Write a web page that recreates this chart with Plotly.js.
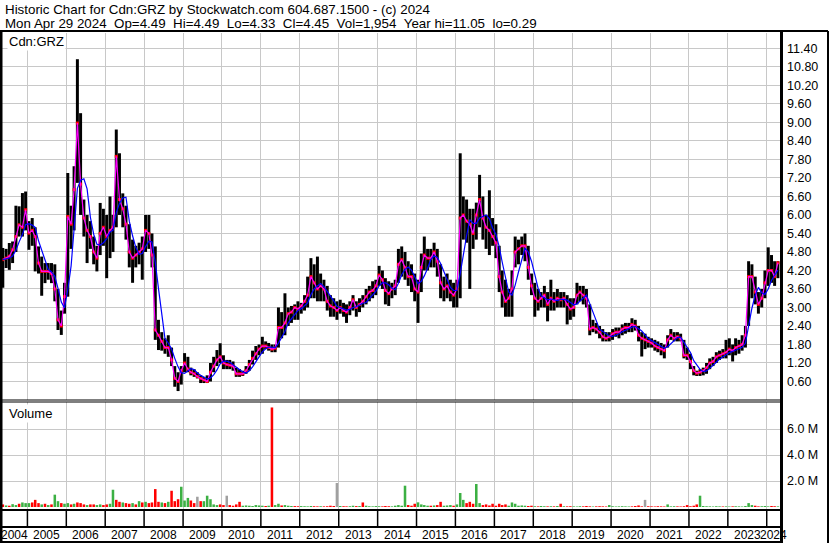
<!DOCTYPE html>
<html><head><meta charset="utf-8">
<script src="https://cdn.plot.ly/plotly-3.0.1.min.js"></script>
<style>html,body{margin:0;padding:0;background:#fff;overflow:hidden}#chart{width:830px;height:543px}</style>
</head><body><div id="chart"></div>
<script>
// ---- data (monthly, May 2004 .. Apr 2024) ----
const firstYear = 2004, firstMonth = 5;
const yearLabels = ['2004','2005','2006','2007','2008','2009','2010','2011','2012','2013','2014','2015','2016','2017','2018','2019','2020','2021','2022','2023','2024'];
const priceTicks = [0.6,1.2,1.8,2.4,3.0,3.6,4.2,4.8,5.4,6.0,6.6,7.2,7.8,8.4,9.0,9.6,10.2,10.8,11.4];
const volTicks = [2,4,6];
const volTickText = ['2.0 M','4.0 M','6.0 M'];
const closePx = [
 4.55,4.60,4.66,4.87,5.3,5.68,5.6,6.17,
 5.41,5.5,5.3,4.44,4.17,4.17,4.17,4.1,3.6,2.6,2.4,3.35,
 5.95,5.7,6.82,8.98,7.0,5.9,5.5,5.3,4.8,4.6,5.4,5.6,
 5.3,5.5,5.6,7.9,6.5,6.2,5.7,4.8,4.6,4.7,4.8,4.9,
 5.5,5.4,4.7,2.27,2.1,1.9,1.7,1.7,1.3,0.7,0.6,0.95,
 1.2,1.0,0.9,0.85,0.76,0.7,0.65,0.6,0.9,1.1,1.3,1.4,
 1.2,1.15,1.13,1.1,0.85,0.85,0.85,0.95,1.15,1.35,1.5,1.65,
 1.75,1.75,1.7,1.65,1.68,2.35,2.35,2.5,2.8,2.85,3.0,2.95,
 3.05,3.2,3.4,4.0,3.8,3.6,3.7,3.6,3.2,3.05,3.0,2.9,
 3.0,2.9,2.85,3.0,3.25,3.0,3.1,3.2,3.35,3.5,3.55,3.7,
 4.05,3.9,3.55,3.45,3.6,3.7,4.4,4.55,4.3,4.0,4.0,3.6,
 3.5,4.3,4.7,4.6,4.6,4.8,4.5,3.8,3.6,3.7,3.5,3.4,
 3.6,5.9,6.0,5.8,5.7,5.4,6.0,6.5,5.9,5.6,5.5,5.3,
 5.1,4.0,3.5,3.2,3.3,3.6,4.8,4.9,5.0,5.0,4.3,3.7,
 3.3,3.2,3.3,3.4,3.1,3.3,3.2,3.3,3.25,3.3,3.1,2.95,
 3.0,3.4,3.5,3.4,3.3,2.3,2.35,2.3,2.2,2.05,2.0,2.05,
 2.15,2.2,2.2,2.3,2.35,2.35,2.45,2.4,2.1,2.0,1.95,1.9,
 1.85,1.75,1.7,1.65,1.6,1.95,2.1,2.0,2.05,2.0,1.45,1.45,
 1.25,0.95,0.87,0.9,0.95,1.05,1.2,1.25,1.4,1.45,1.5,1.55,
 1.65,1.6,1.7,1.75,1.8,2.1,4.0,4.0,3.5,3.1,3.3,3.8,
 4.2,4.2,4.0,4.45];
const highPx = [
 4.93,4.9,5.09,5.14,6.3,6.28,6.71,6.76,
 5.8,5.9,5.6,4.98,4.65,4.44,4.44,4.44,4.4,3.6,2.9,3.8,
 7.36,6.3,7.58,11.05,9.3,6.5,6.0,5.8,5.3,5.0,6.39,6.2,
 6.0,6.6,6.0,8.77,8.0,6.7,6.3,5.7,5.2,5.0,5.1,5.3,
 6.0,6.0,5.4,4.98,2.6,2.2,2.0,2.1,1.7,1.1,0.9,1.1,
 1.52,1.4,1.05,1.0,0.9,0.8,0.75,0.8,1.2,1.4,1.62,1.84,
 1.45,1.3,1.3,1.25,1.05,1.0,0.95,1.1,1.3,1.6,1.75,1.8,
 2.05,1.9,1.85,1.8,1.8,3.0,2.85,3.46,3.0,3.05,3.1,3.2,
 3.15,3.4,4.0,4.6,4.4,4.65,4.1,3.9,3.7,3.4,3.3,3.2,
 3.25,3.15,3.1,3.2,3.4,3.2,3.3,3.4,3.6,3.7,3.85,3.9,
 4.35,4.2,3.95,3.85,3.8,3.9,4.9,4.98,4.8,4.5,4.4,4.1,
 3.9,4.75,5.3,4.9,4.9,5.1,4.9,4.4,4.0,4.1,3.9,3.8,
 3.9,8.0,6.6,6.5,6.2,6.2,6.4,7.3,6.6,6.0,6.8,5.9,
 5.7,5.0,4.2,3.9,3.6,4.2,5.3,5.2,5.3,5.4,5.0,4.1,
 3.8,3.6,3.5,3.7,3.5,3.9,3.5,3.6,3.5,3.5,3.4,3.3,
 3.3,3.8,3.7,3.7,3.6,3.1,2.6,2.5,2.4,2.3,2.2,2.2,
 2.3,2.35,2.35,2.45,2.5,2.5,2.65,2.6,2.4,2.2,2.15,2.05,
 2.0,1.95,1.9,1.85,1.8,2.1,2.3,2.2,2.2,2.15,1.95,1.7,
 1.5,1.1,0.95,1.0,1.05,1.2,1.35,1.4,1.55,1.6,1.65,1.95,
 2.0,1.8,2.0,1.95,2.1,2.4,4.5,4.4,4.0,3.5,3.6,4.2,
 4.95,4.7,4.5,4.5];
const lowPx = [
 3.64,4.28,4.22,4.44,4.8,5.3,5.3,5.5,
 4.87,5.0,4.17,4.1,3.38,3.79,3.9,3.79,3.2,2.27,2.11,2.8,
 3.35,4.9,5.5,7.04,6.0,5.3,4.44,4.9,4.4,4.17,4.7,5.0,
 3.95,4.6,4.8,5.6,6.0,5.6,5.2,4.3,3.8,4.3,4.4,3.9,
 4.8,4.9,4.3,1.95,1.62,1.6,1.5,1.4,1.1,0.43,0.29,0.5,
 0.9,0.9,0.8,0.75,0.7,0.55,0.55,0.55,0.6,0.9,1.1,1.2,
 1.0,1.0,1.0,0.95,0.75,0.75,0.78,0.85,0.95,1.15,1.3,1.45,
 1.5,1.65,1.6,1.55,1.55,1.7,2.0,2.1,2.4,2.5,2.6,2.6,
 2.8,2.9,3.0,3.3,3.3,3.2,3.2,3.2,2.9,2.7,2.7,2.6,
 2.8,2.7,2.5,2.75,2.9,2.7,2.85,3.0,3.1,3.2,3.3,3.4,
 3.7,3.6,3.1,3.05,3.3,3.4,3.8,4.0,3.9,3.7,3.5,3.2,
 2.5,3.5,4.2,4.2,4.3,4.3,4.0,3.3,3.2,3.3,3.2,3.0,
 3.0,3.3,5.2,5.1,3.6,4.9,5.2,5.6,5.2,4.9,4.7,5.0,
 4.6,3.5,3.0,2.7,2.7,2.7,4.3,4.4,4.7,4.5,3.9,3.4,
 2.7,2.9,3.0,3.0,2.55,2.9,2.9,3.0,3.0,3.0,2.45,2.6,
 2.7,3.1,3.2,3.1,3.0,2.1,2.2,2.15,2.0,1.9,1.9,1.9,
 1.95,2.05,2.0,2.1,2.15,2.2,2.2,2.25,1.9,1.41,1.65,1.7,
 1.7,1.6,1.55,1.45,1.35,1.7,1.95,1.9,1.9,1.9,1.35,1.3,
 1.0,0.8,0.78,0.78,0.8,0.85,1.0,1.1,1.2,1.3,1.35,1.35,
 1.45,1.25,1.45,1.5,1.6,1.7,2.4,3.3,3.1,2.8,3.0,3.3,
 3.7,3.8,3.7,3.95];
const volumeM = [
 0.2,0.12,0.1,0.22,0.15,0.25,0.35,0.3,
 0.3,0.35,0.55,0.3,0.2,0.25,0.15,0.2,0.95,0.45,0.3,0.25,
 0.3,0.2,0.25,0.35,0.3,0.2,0.15,0.2,0.2,0.15,0.2,0.15,
 0.2,0.25,1.33,0.55,0.4,0.35,0.3,0.25,0.3,0.2,0.45,0.35,
 0.4,0.3,0.35,1.38,0.4,0.35,0.3,0.4,1.25,0.45,0.6,1.56,
 0.5,0.7,0.5,0.3,0.79,0.45,0.45,0.87,0.6,0.2,0.15,0.2,
 0.15,0.87,0.15,0.1,0.2,0.4,0.1,0.12,0.1,0.08,0.15,0.12,
 0.1,0.08,0.1,7.66,0.15,0.25,0.12,0.15,0.1,0.08,0.07,0.06,
 0.07,0.06,0.05,0.08,0.06,0.05,0.06,0.05,0.06,0.1,0.08,1.85,
 0.08,0.06,0.05,0.06,0.1,0.07,0.08,0.35,0.1,0.06,0.05,0.07,
 0.06,0.05,0.08,0.06,0.05,0.1,0.15,0.1,1.64,0.15,0.1,0.25,
 0.36,0.2,0.15,0.1,0.1,0.12,0.15,0.4,0.1,0.12,0.15,0.1,
 0.2,1.08,0.55,0.3,0.4,0.25,1.77,0.3,0.15,0.2,0.12,0.25,
 0.1,0.25,0.15,0.2,0.1,0.35,0.25,0.1,0.12,0.1,0.08,0.1,
 0.06,0.05,0.08,0.06,0.05,0.06,0.05,0.08,0.25,0.06,0.05,0.06,
 0.05,0.04,0.06,0.05,0.08,0.05,0.04,0.05,0.06,0.05,0.04,0.15,
 0.06,0.04,0.05,0.06,0.05,0.04,0.05,0.08,0.12,0.05,0.55,0.06,
 0.05,0.04,0.06,0.05,0.04,0.2,0.05,0.06,0.05,0.04,0.06,0.15,
 0.06,0.1,0.2,0.87,0.08,0.06,0.05,0.04,0.06,0.05,0.04,0.05,
 0.04,0.05,0.06,0.05,0.04,0.08,0.3,0.15,0.1,0.05,0.06,0.08,
 0.05,0.08,0.06,0.05];
// volume bar direction: g = up, r = down, n = unchanged
const volDir = ('rgrggrgg'+'grrrgrgrggrg'+'grgrrrgrrggr'+'rggrrgrrgrgr'+'grrrrgrgrrrg'+
 'ggrrnrgggggr'+'rnrrrrgggggg'+'grgrggrgggrr'+'ggggrrgrrrrn'+'grrggrgrgggg'+'grrrgggggrrr'+
 'ggggrgrrgggr'+'gggrrrggrrrr'+'rrrrggggggrr'+'grggrgrgrgrr'+'gggrrrgrrrrg'+'ggggggrrrrnr'+
 'rrrrrgggrrrr'+'rrrgggggggrg'+'grggggggrrgg'+'grrg').split('');

// ---- helpers ----
const W = 830, H = 543, L = 1, R = 49, T = 33, B = 33;
const pw = W - L - R, ph = H - T - B;
const px = p => (p - L) / pw;
const py = p => (H - B - p) / ph;
const pad = n => String(n).padStart(2, '0');
const dates = closePx.map((_, i) => {
  const m = firstMonth - 1 + i;
  return (firstYear + Math.floor(m / 12)) + '-' + pad(m % 12 + 1) + '-15';
});
const ma = (arr, n) => arr.map((_, i) => {
  const s = arr.slice(Math.max(0, i - n + 1), i + 1);
  return s.reduce((a, b) => a + b, 0) / s.length;
});
const xRange = ['2004-04-28', '2024-05-14'];
const dayMs = 86400000;
const barW = 28 * dayMs;
const grid = '#c8c8c8';
const dirColor = {g: '#3cb043', r: '#ff0000', n: '#a0a0a0'};

const traces = [
  {type: 'bar', x: dates, y: highPx.map((h, i) => h - lowPx[i]), base: lowPx, width: barW,
   marker: {color: '#000', line: {width: 0}}, xaxis: 'x', yaxis: 'y', hoverinfo: 'skip'},
  {type: 'scatter', mode: 'markers', x: dates, y: closePx, xaxis: 'x', yaxis: 'y',
   marker: {symbol: 'square', size: 3, color: '#ff0000'}, hoverinfo: 'skip'},
  {type: 'scatter', mode: 'lines', x: dates, y: closePx, xaxis: 'x', yaxis: 'y',
   line: {color: '#ff00ff', width: 1.2}, hoverinfo: 'skip'},
  {type: 'scatter', mode: 'lines', x: dates, y: ma(closePx, 4), xaxis: 'x', yaxis: 'y',
   line: {color: '#0000ff', width: 1.2}, hoverinfo: 'skip'},
  {type: 'bar', x: dates, y: volumeM, width: barW * 0.85, xaxis: 'x', yaxis: 'y2',
   marker: {color: volDir.map(d => dirColor[d]), line: {width: 0}}, hoverinfo: 'skip'}
];

const yearStarts = yearLabels.slice(1).map(y => y + '-01-01');
const shapes = [];
const line = (x0, y0, x1, y1, w, xref) => shapes.push({type: 'line', xref: xref || 'paper', yref: 'paper',
  x0, y0, x1, y1, line: {color: '#000', width: w}, layer: 'above'});
line(px(0), py(31), px(828), py(31), 2);
line(px(0), py(400), px(781), py(400), 1.2);
line(px(0), py(402), px(781), py(402), 1.2);
line(px(0), py(510), px(781), py(510), 2);
line(px(0), py(527), px(781), py(527), 2);
line(px(0), py(542), px(781), py(542), 2);
line(px(1), py(543), px(1), py(31), 3);
line(px(781.5), py(543), px(781.5), py(31), 3);
line(px(828), py(543), px(828), py(31), 2);
yearStarts.forEach(d => line(d, py(510), d, py(527), 1.5, 'x'));

const toStr = ms => new Date(ms).toISOString().slice(0, 19).replace('T', ' ');
const r0 = Date.parse(xRange[0]), r1 = Date.parse(xRange[1]);
const sp = '\u00a0\u00a0';
const annotations = [
  {xref: 'paper', yref: 'paper', x: px(3), y: py(10), xanchor: 'left', yanchor: 'middle', showarrow: false,
   text: 'Historic Chart for Cdn:GRZ by Stockwatch.com 604.687.1500 - (c) 2024', font: {size: 13.35}},
  {xref: 'paper', yref: 'paper', x: px(3), y: py(23.5), xanchor: 'left', yanchor: 'middle', showarrow: false,
   text: ['Mon Apr 29 2024', 'Op=4.49', 'Hi=4.49', 'Lo=4.33', 'Cl=4.45', 'Vol=1,954', 'Year hi=11.05', 'lo=0.29'].join(sp),
   font: {size: 13.35}},
  {xref: 'paper', yref: 'paper', x: px(7), y: py(41.5), xanchor: 'left', yanchor: 'middle', showarrow: false,
   text: 'Cdn:GRZ', font: {size: 13}, bgcolor: '#fff', borderpad: 1},
  {xref: 'paper', yref: 'paper', x: px(7), y: py(413), xanchor: 'left', yanchor: 'middle', showarrow: false,
   text: 'Volume', font: {size: 13}, bgcolor: '#fff', borderpad: 1}
];
yearLabels.forEach(y => {
  const a = Math.max(Date.UTC(+y, 0, 1), r0), b = Math.min(Date.UTC(+y + 1, 0, 1), r1);
  annotations.push({xref: 'x', yref: 'paper', x: toStr((a + b) / 2), y: py(535), xanchor: 'center', yanchor: 'middle',
    showarrow: false, text: y, font: {size: 12}});
});

const layout = {
  width: W, height: H, margin: {l: L, r: R, t: T, b: B, pad: 0},
  paper_bgcolor: '#fff', plot_bgcolor: '#fff', showlegend: false,
  font: {family: '"Liberation Sans", Arial, sans-serif', size: 13, color: '#000'},
  xaxis: {type: 'date', range: xRange, anchor: 'y2', tickvals: yearStarts, showticklabels: false, ticks: '',
    showgrid: true, gridcolor: grid, gridwidth: 1, zeroline: false, showline: false, fixedrange: true},
  yaxis: {domain: [py(400), 1], range: [0, 11.9], side: 'right', anchor: 'x', tickvals: priceTicks,
    ticktext: priceTicks.map(v => v.toFixed(2)), ticks: '', showgrid: true, gridcolor: grid, gridwidth: 1,
    zeroline: false, showline: false, ticklabelstandoff: 5, tickfont: {size: 12.5}},
  yaxis2: {domain: [0, py(402)], range: [-0.23, 8.08], side: 'right', anchor: 'x', tickvals: volTicks,
    ticktext: volTickText, ticks: '', showgrid: true, gridcolor: grid, gridwidth: 1,
    zeroline: false, showline: false, ticklabelstandoff: 5, tickfont: {size: 12.5}},
  shapes, annotations
};
Plotly.newPlot('chart', traces, layout, {staticPlot: true, displayModeBar: false});
</script></body></html>
